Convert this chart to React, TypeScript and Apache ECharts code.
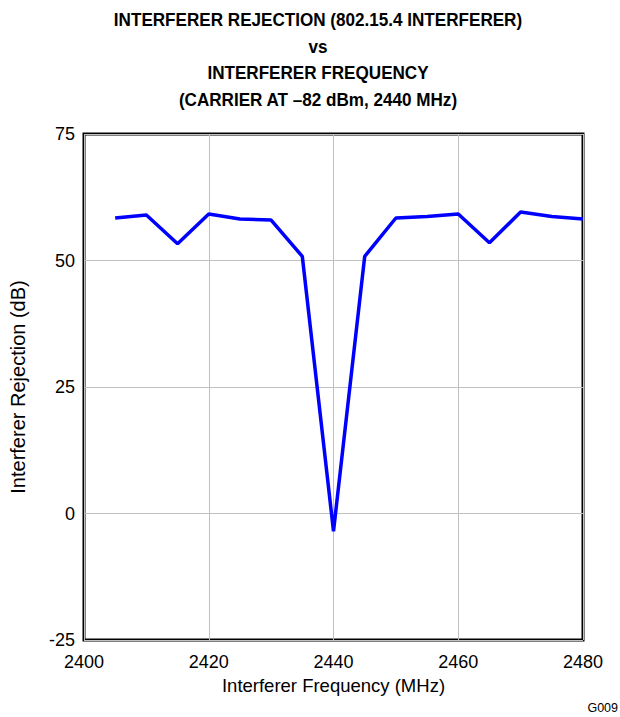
import React, { useEffect, useRef } from "react";
import * as echarts from "echarts";

const frequencies = [2405, 2410, 2415, 2420, 2425, 2430, 2435, 2440, 2445, 2450, 2455, 2460, 2465, 2470, 2475, 2480];
const rejection = [58.4, 59.0, 53.3, 59.2, 58.2, 58.0, 50.8, -3.5, 50.8, 58.4, 58.7, 59.2, 53.5, 59.6, 58.7, 58.2];
const titleLines = [
  "INTERFERER REJECTION (802.15.4 INTERFERER)",
  "vs",
  "INTERFERER FREQUENCY",
  "(CARRIER AT \u201382 dBm, 2440 MHz)",
];

const FONT = "Liberation Sans, Arial, sans-serif";

export default function App() {
  const ref = useRef<HTMLDivElement>(null);
  useEffect(() => {
    if (!ref.current) return;
    const chart = echarts.init(ref.current, undefined, { renderer: "svg" });
    chart.setOption({
      animation: false,
      backgroundColor: "#ffffff",
      graphic: [
        ...titleLines.map((t, i) => ({
          type: "text",
          x: 318,
          y: 20 + i * 26.5,
          scaleX: 0.9,
          style: {
            text: t,
            fill: "#000",
            font: `bold 19px ${FONT}`,
            textAlign: "center",
            textVerticalAlign: "middle",
          },
        })),
        {
          type: "text",
          x: 618,
          y: 708,
          style: {
            text: "G009",
            fill: "#000",
            font: `12.5px ${FONT}`,
            textAlign: "right",
            textVerticalAlign: "middle",
          },
        },
      ],
      grid: {
        left: 77,
        right: 37,
        top: 134,
        bottom: 77,
        show: true,
        borderColor: "#000",
        borderWidth: 3,
        backgroundColor: "transparent",
      },
      xAxis: {
        type: "value",
        min: 2400,
        max: 2480,
        interval: 20,
        name: "Interferer Frequency (MHz)",
        nameLocation: "middle",
        nameGap: 34,
        nameTextStyle: { fontFamily: FONT, fontSize: 18.5, color: "#000" },
        axisLine: { show: false },
        axisTick: { show: false },
        axisLabel: {
          fontFamily: FONT,
          fontSize: 18,
          color: "#000",
          margin: 13,
          formatter: (v: number) => String(v),
        },
        splitLine: { show: true, lineStyle: { color: "#c0c0c0", width: 1 } },
      },
      yAxis: {
        type: "value",
        min: -25,
        max: 75,
        interval: 25,
        name: "Interferer Rejection (dB)",
        nameLocation: "middle",
        nameGap: 56,
        nameTextStyle: { fontFamily: FONT, fontSize: 20, color: "#000" },
        axisLine: { show: false },
        axisTick: { show: false },
        axisLabel: {
          fontFamily: FONT,
          fontSize: 18,
          color: "#000",
          margin: 9,
          formatter: (v: number) => String(v),
        },
        splitLine: { show: true, lineStyle: { color: "#c0c0c0", width: 1 } },
      },
      series: [
        {
          type: "line",
          data: frequencies.map((f, i) => [f, rejection[i]]),
          symbol: "none",
          lineStyle: { color: "#0000ff", width: 3.5 },
          clip: false,
        },
      ],
    });
    return () => chart.dispose();
  }, []);
  return <div ref={ref} style={{ width: 620, height: 717, position: "absolute", left: 0, top: 0 }} />;
}
